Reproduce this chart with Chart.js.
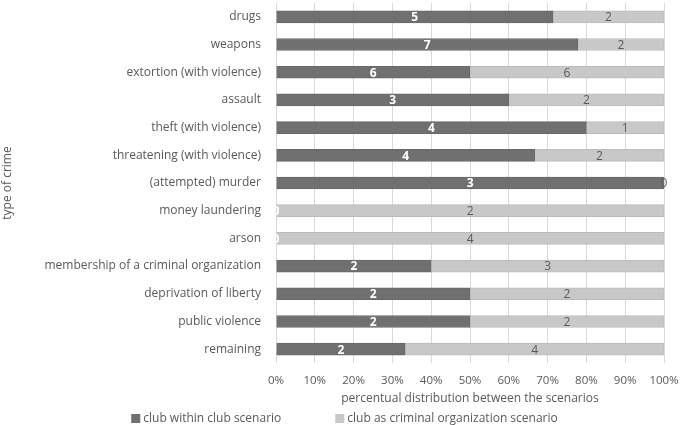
<!DOCTYPE html>
<html>
<head>
<meta charset="utf-8">
<script src="https://cdn.jsdelivr.net/npm/chart.js@4.4.1/dist/chart.umd.min.js"></script>
<style>
html,body{margin:0;padding:0;background:#fff;}
#wrap{width:685px;height:425px;position:relative;}
</style>
</head>
<body>
<div id="wrap"><canvas id="c" width="685" height="425"></canvas></div>
<script>
const categories = [
  "drugs","weapons","extortion (with violence)","assault","theft (with violence)",
  "threatening (with violence)","(attempted) murder","money laundering","arson",
  "membership of a criminal organization","deprivation of liberty","public violence","remaining"
];
// counts shown as labels
const countsClub = [5,7,6,3,4,4,3,0,0,2,2,2,2];
const countsCrim = [2,2,6,2,1,2,0,2,4,3,2,2,4];
// percentual distribution
const pctClub = [71.4,77.8,50,60,80,66.7,100,0,0,40,50,50,33.3];
const pctCrim = [28.6,22.2,50,40,20,33.3,0,100,100,60,50,50,66.7];
const seriesNames = ["club within club scenario","club as criminal organization scenario"];
const xTicks = [0,10,20,30,40,50,60,70,80,90,100];

const FONT = "'Open Sans', sans-serif";
const TXT = "#595959";
const DARK = "#707070";
const LIGHT = "#c8c8c8";

const labelPlugin = {
  id: 'barLabels',
  afterDatasetsDraw(chart) {
    const ctx = chart.ctx;
    const counts = [countsClub, countsCrim];
    chart.data.datasets.forEach((ds, di) => {
      const meta = chart.getDatasetMeta(di);
      meta.data.forEach((el, i) => {
        const cx = (el.x + el.base) / 2;
        ctx.save();
        ctx.textAlign = 'center';
        ctx.textBaseline = 'middle';
        if (di === 0) { ctx.fillStyle = '#ffffff'; ctx.font = "bold 12px " + FONT; }
        else { ctx.fillStyle = TXT; ctx.font = "12px " + FONT; }
        ctx.fillText(String(counts[di][i]), cx, el.y + 1);
        ctx.restore();
      });
    });
  }
};

const legendPlugin = {
  id: 'customLegend',
  afterDraw(chart) {
    const ctx = chart.ctx;
    ctx.save();
    ctx.font = "12px " + FONT;
    const box = 9, gapText = 3, gapItems = 54;
    const w0 = box + gapText + ctx.measureText(seriesNames[0]).width;
    const w1 = box + gapText + ctx.measureText(seriesNames[1]).width;
    const total = w0 + gapItems + w1;
    let x = chart.width / 2 + 2 - total / 2;
    const y = 418.5;
    const cols = [DARK, LIGHT];
    [w0, w1].forEach((w, k) => {
      ctx.fillStyle = cols[k];
      ctx.fillRect(x, y - box / 2, box, box);
      ctx.fillStyle = TXT;
      ctx.textAlign = 'left';
      ctx.textBaseline = 'middle';
      ctx.fillText(seriesNames[k], x + box + gapText, y);
      x += w + gapItems;
    });
    ctx.restore();
  }
};

new Chart(document.getElementById('c'), {
  type: 'bar',
  data: {
    labels: categories,
    datasets: [
      { label: seriesNames[0], data: pctClub, backgroundColor: DARK, borderColor: '#686868', borderWidth: 1, barThickness: 12 },
      { label: seriesNames[1], data: pctCrim, backgroundColor: LIGHT, borderColor: '#bcbcbc', borderWidth: 1, barThickness: 12 }
    ]
  },
  options: {
    indexAxis: 'y',
    responsive: false,
    animation: false,
    devicePixelRatio: 1,
    layout: { padding: { left: 0, top: 3, right: 21, bottom: 15 } },
    plugins: { legend: { display: false }, tooltip: { enabled: false } },
    scales: {
      x: {
        stacked: true, min: 0, max: 100,
        afterBuildTicks(scale) { scale.ticks = xTicks.map(v => ({ value: v })); },
        afterFit(scale) { scale.height = 47; scale.paddingLeft = 0; scale.paddingRight = 0; },
        grid: { color: '#d9d9d9', drawTicks: false },
        border: { display: false },
        ticks: { padding: 11, color: TXT, font: { family: FONT, size: 11.5 }, callback: v => v + '%' },
        title: { display: true, text: 'percentual distribution between the scenarios', color: TXT, font: { family: FONT, size: 12 }, padding: { top: 0, bottom: 4 } }
      },
      y: {
        stacked: true,
        afterFit(scale) { scale.width = 276; scale.paddingTop = 0; scale.paddingBottom = 0; },
        grid: { display: false, drawTicks: false },
        border: { display: false },
        ticks: { padding: 15, color: TXT, font: { family: FONT, size: 12 } },
        title: { display: true, text: 'type of crime', color: TXT, font: { family: FONT, size: 12 }, padding: { top: 0, bottom: 0 } }
      }
    }
  },
  plugins: [labelPlugin, legendPlugin]
});
</script>
</body>
</html>
